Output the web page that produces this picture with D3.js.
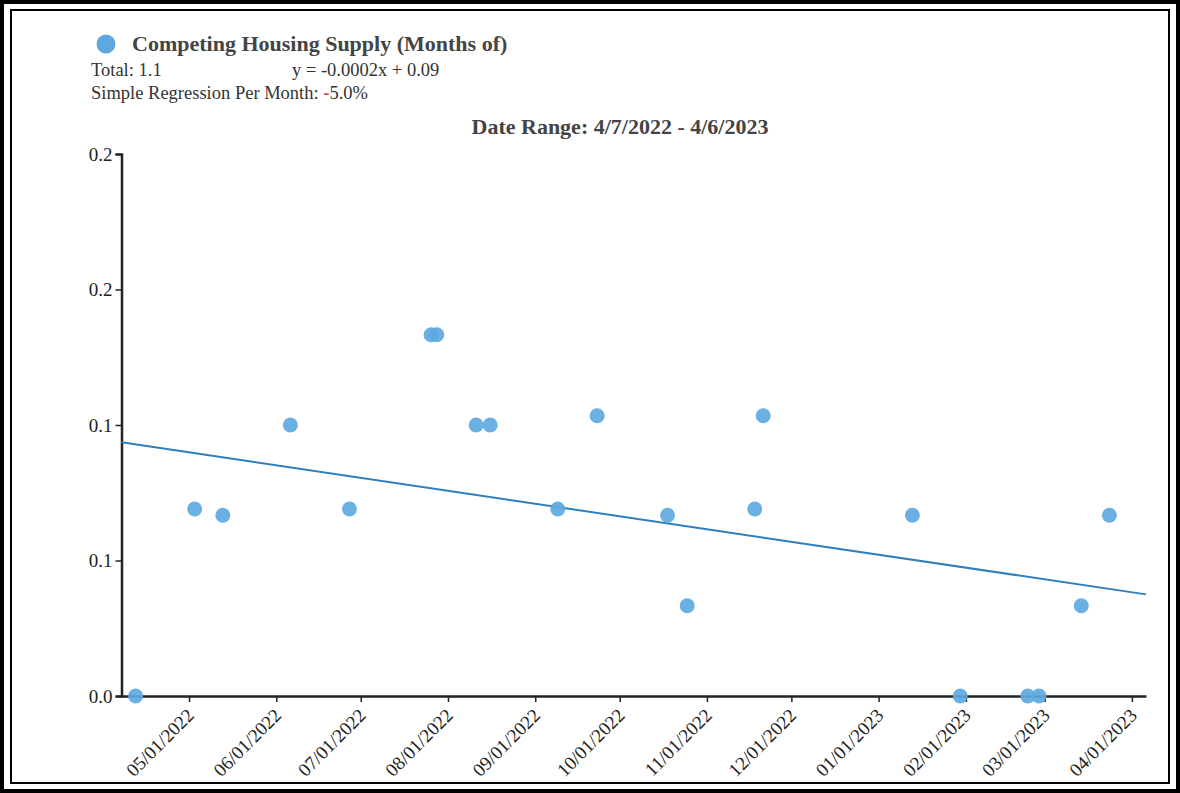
<!DOCTYPE html>
<html><head><meta charset="utf-8">
<script src="https://cdn.jsdelivr.net/npm/d3@7"></script>
<style>html,body{margin:0;padding:0;background:#fff;}svg{display:block;}</style>
</head><body>
<svg id="c" width="1180" height="793"></svg>
<script>
const dates = ["2022-04-12","2022-05-03","2022-05-13","2022-06-06","2022-06-27","2022-07-26","2022-07-28","2022-08-11","2022-08-16","2022-09-09","2022-09-23","2022-10-18","2022-10-25","2022-11-18","2022-11-21","2023-01-13","2023-01-30","2023-02-23","2023-02-27","2023-03-14","2023-03-24"];
const values = [0, 0.069, 0.0667, 0.1, 0.069, 0.1333, 0.1333, 0.1, 0.1, 0.069, 0.1034, 0.0667, 0.0333, 0.069, 0.1034, 0.0667, 0, 0, 0, 0.0333, 0.0667];
const trendDates = ["2022-04-07","2023-04-06"];
const trendValues = [0.0936, 0.0375];
const domainDates = ["2022-04-07","2023-04-06"];
const yTicks = [0, 0.05, 0.1, 0.15, 0.2];
const xTickDates = ["2022-05-01","2022-06-01","2022-07-01","2022-08-01","2022-09-01","2022-10-01","2022-11-01","2022-12-01","2023-01-01","2023-02-01","2023-03-01","2023-04-01"];

const parse = d3.timeParse("%Y-%m-%d");
const svg = d3.select("#c");
const serif = "'Liberation Serif','Times New Roman',serif";

// frame
svg.append("rect").attr("x",2).attr("y",2).attr("width",1176).attr("height",789).attr("fill","none").attr("stroke","#000").attr("stroke-width",4);
svg.append("rect").attr("x",11).attr("y",10).attr("width",1158).attr("height",773).attr("fill","none").attr("stroke","#000").attr("stroke-width",2);

const x = d3.scaleTime().domain(domainDates.map(parse)).range([121.5, 1146]);
const y = d3.scaleLinear().domain([0, 0.2]).range([696, 154]);

// header
svg.append("circle").attr("cx",106).attr("cy",44).attr("r",9.5).attr("fill","#5DA9DF");
svg.append("text").attr("x",132).attr("y",51).attr("font-family",serif).attr("font-weight","bold").attr("font-size",22).attr("fill","#444").text("Competing Housing Supply (Months of)");
svg.append("text").attr("x",91).attr("y",76).attr("font-family",serif).attr("font-size",18.5).attr("fill","#333").text("Total: 1.1");
svg.append("text").attr("x",292).attr("y",76).attr("font-family",serif).attr("font-size",18.5).attr("fill","#333").text("y = -0.0002x + 0.09");
const t3 = svg.append("text").attr("x",91).attr("y",99).attr("font-family",serif).attr("font-size",18.5).attr("fill","#333");
t3.append("tspan").text("Simple Regression Per Month: ");
t3.append("tspan").attr("fill","#e8413a").attr("font-weight","bold").text("-");
t3.append("tspan").text("5.0%");
svg.append("text").attr("x",620).attr("y",134).attr("text-anchor","middle").attr("font-family",serif).attr("font-weight","bold").attr("font-size",22).attr("fill","#444").text("Date Range: 4/7/2022 - 4/6/2023");

// axes
const fmtY = v => (Math.round(v*10)/10).toFixed(1);
const yAxis = svg.append("g").attr("transform","translate(121.5,0)")
  .call(d3.axisLeft(y).tickValues(yTicks).tickFormat(fmtY).tickSize(6).tickSizeOuter(6));
const xAxis = svg.append("g").attr("transform","translate(0,696)")
  .call(d3.axisBottom(x).tickValues(xTickDates.map(parse)).tickFormat(d3.timeFormat("%m/%d/%Y")).tickSize(6).tickSizeOuter(0));
[yAxis,xAxis].forEach(g=>{
  g.select(".domain").attr("stroke","#222").attr("stroke-width",2.5);
  g.selectAll(".tick line").attr("stroke","#222").attr("stroke-width",1.5);
  g.selectAll("text").attr("font-family",serif).attr("font-size",19).attr("fill","#222");
});
xAxis.selectAll("text").attr("text-anchor","end").attr("dx","-0.55em").attr("dy","0.5em").attr("transform","rotate(-45)");

// trend
svg.append("line")
  .attr("x1", x(parse(trendDates[0]))).attr("y1", y(trendValues[0]))
  .attr("x2", x(parse(trendDates[1]))).attr("y2", y(trendValues[1]))
  .attr("stroke","#2F7FBF").attr("stroke-width",2);

// points
svg.append("g").selectAll("circle").data(dates.map((d,i)=>({d:parse(d),v:values[i]})))
  .join("circle").attr("cx",d=>x(d.d)).attr("cy",d=>y(d.v)).attr("r",7.5)
  .attr("fill","#5DA9DF").attr("fill-opacity",0.92);
</script>
</body></html>
